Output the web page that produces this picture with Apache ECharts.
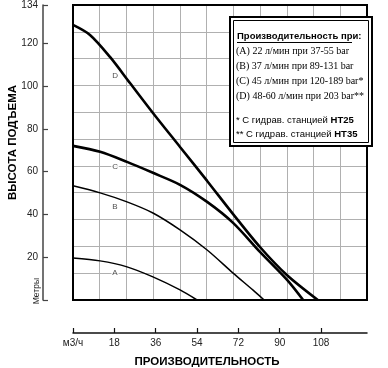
<!DOCTYPE html>
<html><head><meta charset="utf-8">
<script src="https://cdn.jsdelivr.net/npm/echarts@6/dist/echarts.min.js"></script>
<style>html,body{margin:0;padding:0;background:#fff}#c{width:388px;height:368px}</style>
</head><body><div id="c"></div>
<script>
// Flow (m3/h) and head (m)
const flowA = [0, 11.8, 23.5, 34.8, 46.6, 54];
const headA = [19.7, 18.3, 15.5, 10.8, 4.7, 0];
const flowB = [0, 11.8, 23.5, 34.8, 46.6, 58.4, 69.7, 78.4, 83.2];
const headB = [53.4, 50.1, 45.9, 40.7, 32.8, 23.4, 12.6, 4.6, 0];
const flowC = [0, 11.8, 23.5, 34.8, 46.6, 58.4, 69.7, 81.4, 93.2, 100.2];
const headC = [72.1, 69.3, 64.6, 59.5, 53.9, 45.9, 36.1, 22.5, 9.4, 0];
const flowD = [0, 7.4, 16.1, 24.8, 34.8, 46.6, 58.4, 69.7, 81.4, 93.1, 106.6];
const headD = [128.7, 124.0, 113.7, 101.5, 87.5, 71.6, 55.7, 40.2, 24.8, 11.7, 0];
const curveNames = ['A', 'B', 'C', 'D'];
const labelFlow = [18.3, 18.3, 18.3, 18.3];
const labelHead = [12.6, 43.6, 62.3, 104.9];
const xTicks = [0, 18, 36, 54, 72, 90, 108];
const xTickLabels = ['м3/ч', '18', '36', '54', '72', '90', '108'];
const yTicks = [0, 20, 40, 60, 80, 100, 120, 138];
const yTickLabels = ['', '20', '40', '60', '80', '100', '120', '134'];
const legendTitle = 'Производительность при:';
const legendLines = [
  '(A) 22 л/мин при 37-55 bar',
  '(B) 37 л/мин при 89-131 bar',
  '(C) 45 л/мин при 120-189 bar*',
  '(D) 48-60 л/мин при 203 bar**'
];
const noteLines = [['* С гидрав. станцией ', 'HT25'], ['** С гидрав. станцией ', 'HT35']];
const xTitle = 'ПРОИЗВОДИТЕЛЬНОСТЬ';
const yTitle = 'ВЫСОТА ПОДЪЕМА';
const yUnit = 'Метры';

const zip = (a, b) => a.map((v, i) => [v, b[i]]);
const chart = echarts.init(document.getElementById('c'), null, {renderer: 'canvas'});
const sans = 'Liberation Sans, Arial, sans-serif';
const serif = 'Liberation Serif, Times New Roman, serif';

const lineSeries = (name, fx, hy, w) => ({
  type: 'line', name, data: zip(fx, hy), smooth: 0.3, showSymbol: false, silent: true,
  xAxisIndex: 0, yAxisIndex: 0, lineStyle: {color: '#000', width: w}, z: 5
});

const Z = 100;
chart.setOption({
  animation: false,
  grid: {left: 73, top: 5, right: 21, bottom: 68, containLabel: false, outerBoundsMode: 'none',
    show: true, borderColor: '#000', borderWidth: 2, z: 3},
  xAxis: [
    {type: 'value', min: 0, max: 128, position: 'bottom', offset: 33,
      axisLine: {show: true, onZero: false, lineStyle: {color: '#111', width: 1.5}},
      axisTick: {show: true, inside: true, length: 5, customValues: xTicks, lineStyle: {color: '#111', width: 1.2}},
      axisLabel: {show: true, customValues: xTicks, margin: 5, fontFamily: sans, fontSize: 10, color: '#222',
        formatter: v => xTickLabels[xTicks.indexOf(v)] ?? ''},
      splitLine: {show: false},
      name: xTitle, nameLocation: 'middle', nameGap: 23, nameMoveOverlap: false,
      nameTextStyle: {fontFamily: sans, fontWeight: 'bold', fontSize: 11.5, color: '#000', padding: [0, 26, 0, 0]}},
    {type: 'value', min: 0, max: 11, interval: 1, show: true, gridIndex: 0,
      axisLine: {show: false}, axisTick: {show: false}, axisLabel: {show: false},
      splitLine: {show: true, lineStyle: {color: '#b0b0b0', width: 1}}}
  ],
  yAxis: [
    {type: 'value', min: 0, max: 138, position: 'left', offset: 30,
      axisLine: {show: true, onZero: false, lineStyle: {color: '#444', width: 1.5}},
      axisTick: {show: true, inside: true, length: 5, customValues: yTicks, lineStyle: {color: '#444', width: 1.2}},
      axisLabel: {show: true, customValues: yTicks, margin: 5, fontFamily: sans, fontSize: 10, color: '#222',
        formatter: v => yTickLabels[yTicks.indexOf(v)] ?? ''},
      splitLine: {show: false},
      name: yTitle, nameLocation: 'middle', nameGap: 24, nameRotate: 90, nameMoveOverlap: false,
      nameTextStyle: {fontFamily: sans, fontWeight: 'bold', fontSize: 11.5, color: '#000', padding: [0, 0, 0, 20]}},
    {type: 'value', min: 0, max: 11, interval: 1, show: true, gridIndex: 0,
      axisLine: {show: false}, axisTick: {show: false}, axisLabel: {show: false},
      splitLine: {show: true, lineStyle: {color: '#b0b0b0', width: 1}}}
  ],
  series: [
    lineSeries('A', flowA, headA, 1.5),
    lineSeries('B', flowB, headB, 1.5),
    lineSeries('C', flowC, headC, 2.6),
    lineSeries('D', flowD, headD, 2.6),
    {type: 'scatter', xAxisIndex: 0, yAxisIndex: 0, symbolSize: 0, silent: true, z: 6,
      data: curveNames.map((n, i) => ({value: [labelFlow[i], labelHead[i]], name: n})),
      label: {show: true, position: 'inside', formatter: p => p.name, fontFamily: sans, fontSize: 8, color: '#222',
        backgroundColor: '#fff', padding: [0, 1]}}
  ],
  graphic: [
    {type: 'text', left: 32, top: 278, rotation: Math.PI / 2, z: Z,
      style: {text: yUnit, fontFamily: sans, fontSize: 8.5, fill: '#222'}},
    {type: 'rect', z: Z, shape: {x: 230, y: 17, width: 142, height: 129}, style: {fill: '#fff', stroke: '#000', lineWidth: 2}},
    {type: 'rect', z: Z + 1, shape: {x: 233.5, y: 20.5, width: 135, height: 122}, style: {fill: 'none', stroke: '#000', lineWidth: 1}},
    {type: 'text', z: Z + 1, x: 237, y: 31, style: {text: legendTitle, fontFamily: sans, fontWeight: 'bold', fontSize: 9.5, fill: '#000'}},
    {type: 'line', z: Z + 1, shape: {x1: 237, y1: 42.5, x2: 352, y2: 42.5}, style: {stroke: '#000', lineWidth: 1}},
    ...legendLines.map((t, i) => ({type: 'text', z: Z + 1, x: 236, y: 46 + i * 15,
      style: {text: t, fontFamily: serif, fontSize: 10, fill: '#000'}})),
    ...noteLines.map((t, i) => ({type: 'text', z: Z + 1, x: 236, y: 115 + i * 14,
      style: {text: '{a|' + t[0] + '}{b|' + t[1] + '}',
        rich: {a: {fontFamily: sans, fontSize: 9.5, fill: '#000'}, b: {fontFamily: sans, fontWeight: 'bold', fontSize: 9.5, fill: '#000'}}}}))
  ]
});
</script></body></html>
